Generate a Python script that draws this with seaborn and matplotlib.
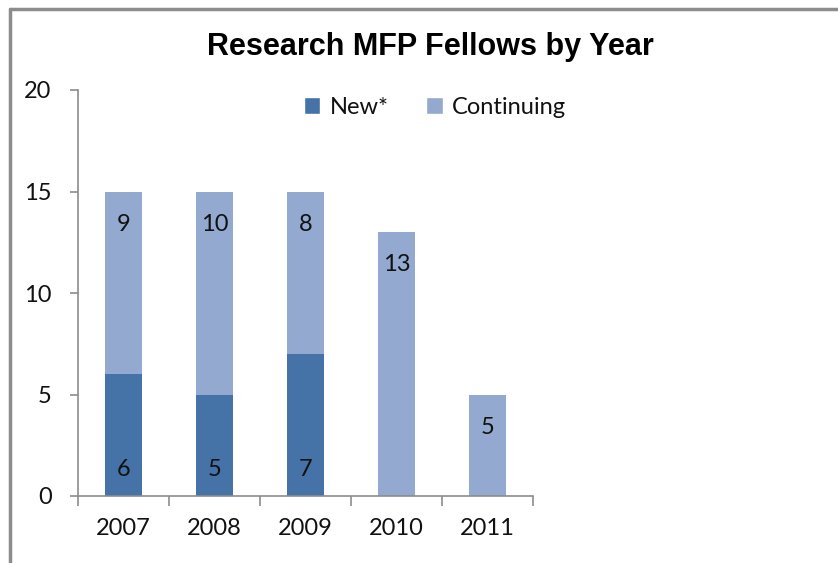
import matplotlib
matplotlib.use("Agg")
import matplotlib.pyplot as plt
from matplotlib.lines import Line2D
from matplotlib.patches import Patch
import pandas as pd
import seaborn as sns

YEARS = ["2007", "2008", "2009", "2010", "2011"]
NEW = [6, 5, 7, 0, 0]
CONTINUING = [9, 10, 8, 13, 5]
TITLE = "Research MFP Fellows by Year"

DARK = "#4572A7"
LIGHT = "#93A9CF"
GRAY = "#8C8C8C"
INK = "#111111"
FS = 17

sns.set_theme(style="white")
plt.rcParams["font.family"] = ["Lato", "DejaVu Sans"]

df = pd.DataFrame({"year": YEARS, "new": NEW, "cont": CONTINUING})
df["total"] = df["new"] + df["cont"]

fig = plt.figure(figsize=(8.38, 5.63), dpi=100)
ax = fig.add_axes([78 / 838, 1 - 496 / 563, (533 - 78) / 838, (496 - 90) / 563])

# stacked: total in light, new drawn over it in dark
sns.barplot(data=df, x="year", y="total", color=LIGHT, width=0.4, saturation=1,
            linewidth=0, ax=ax)
sns.barplot(data=df, x="year", y="new", color=DARK, width=0.4, saturation=1,
            linewidth=0, ax=ax)

n = len(YEARS)
new_bars = ax.patches[n:]

# continuing labels: inside end
ax.bar_label(ax.containers[0], labels=[str(v) for v in CONTINUING],
             padding=-31, fontsize=FS, color=INK)
# new labels: inside base
for bar, v in zip(new_bars, NEW):
    if v > 0:
        ax.text(bar.get_x() + bar.get_width() / 2, 1.3, str(v),
                ha="center", va="center", fontsize=FS, color=INK)

ax.set_ylim(0, 20)
ax.set_xlim(-0.5, n - 0.5)
ax.set_yticks([0, 5, 10, 15, 20])
ax.set_xlabel("")
ax.set_ylabel("")

for s in ["top", "right"]:
    ax.spines[s].set_visible(False)
for s in ["left", "bottom"]:
    ax.spines[s].set_color(GRAY)
    ax.spines[s].set_linewidth(1.2)

ax.tick_params(axis="y", which="major", direction="out", length=6, width=1.2,
               color=GRAY, left=True, pad=13, labelsize=FS, labelcolor=INK)
ax.set_xticks([i - 0.5 for i in range(n + 1)], minor=True)
ax.tick_params(axis="x", which="major", length=0, pad=16, labelsize=FS,
               labelcolor=INK)
ax.tick_params(axis="x", which="minor", direction="out", length=7, width=1.2,
               color=GRAY, bottom=True)

fig.text(430 / 838, 1 - 47 / 563, TITLE, ha="center", va="center", color="black",
         fontsize=22, fontweight="bold", family=["Liberation Sans", "DejaVu Sans"])

handles = [Patch(facecolor=DARK), Patch(facecolor=LIGHT)]
fig.legend(handles, ["New*", "Continuing"], loc="center",
           bbox_to_anchor=(435 / 838, 1 - 107 / 563), ncol=2, frameon=False,
           fontsize=FS, labelcolor=INK, handlelength=0.7, handleheight=0.7,
           handletextpad=0.4, columnspacing=1.6)

# outer chart frame
fig.add_artist(Line2D([10 / 838, 10 / 838], [0, 1 - 9 / 563], color=GRAY, lw=2.5,
                      transform=fig.transFigure))
fig.add_artist(Line2D([10 / 838, 1], [1 - 9 / 563, 1 - 9 / 563], color=GRAY, lw=2.5,
                      transform=fig.transFigure))

fig.savefig("out.png", dpi=100)
